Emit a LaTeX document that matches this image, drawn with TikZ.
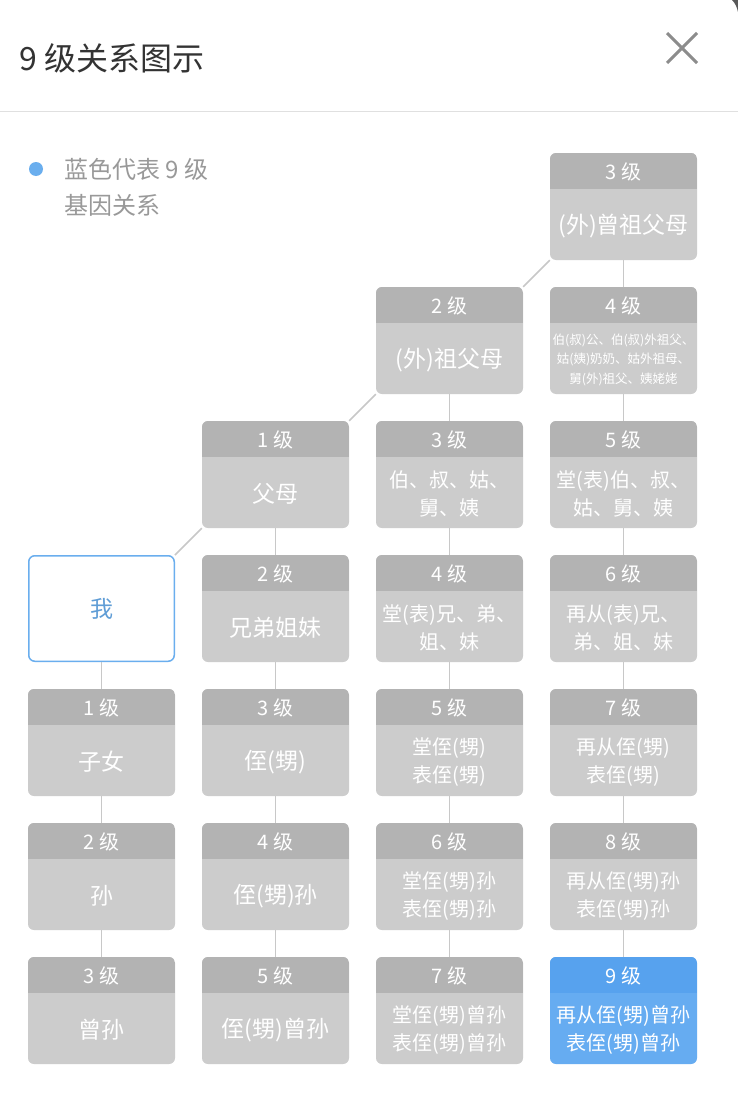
\documentclass[tikz,border=0pt]{standalone}
\usepackage{fontspec}
\setmainfont{Noto Sans CJK SC}
\usepackage{tikz}
\definecolor{headgray}{HTML}{B3B3B3}
\definecolor{bodygray}{HTML}{CCCCCC}
\definecolor{headblue}{HTML}{57A2EE}
\definecolor{bodyblue}{HTML}{66ACF1}
\definecolor{meblue}{HTML}{6AAEEE}
\definecolor{linegray}{HTML}{C8C8C8}
\definecolor{titlegray}{HTML}{333333}
\definecolor{keygray}{HTML}{999999}
\newcommand{\fs}[2]{\fontsize{#1}{#2}\selectfont}
\newcommand{\relcard}[6][card]{%
  \node[#1] (#2) at (#3) {};
  \node[headtext] (#2h) at ([yshift=-19pt]#2.north) {#4 级};
  \node[#6] (#2b) at ([yshift=-73pt]#2.north) {#5};
}

\begin{document}
\begin{tikzpicture}[x=1pt, y=-1pt,
    card/.style={rounded corners=6pt, fill=bodygray, minimum width=147pt, minimum height=107pt, inner sep=0pt,
      path picture={\fill[headgray, sharp corners] (path picture bounding box.north west) rectangle ([yshift=-36pt]path picture bounding box.north east);}},
    bluecard/.style={card, fill=bodyblue,
      path picture={\fill[headblue, sharp corners] (path picture bounding box.north west) rectangle ([yshift=-36pt]path picture bounding box.north east);}},
    mecard/.style={rounded corners=6pt, draw=meblue, line width=1.5pt, fill=white, minimum width=145.5pt, minimum height=105.5pt, text=meblue!90!black, font=\fs{23}{23}},
    headtext/.style={white, font=\fs{20}{20}},
    lbig/.style={white, font=\fs{23}{23}},
    ltwo/.style={white, align=center, font=\fs{20}{28}},
    lsmall/.style={white, align=center, font=\fs{12.5}{19.5}},
    link/.style={draw=linegray, line width=1.5pt}]
  \useasboundingbox[fill=white] (0,0) rectangle (738,1105);
  \fill[black!65] (732,0) .. controls (735,3) and (737,7) .. (738,12) -- (738,0) -- cycle;

  \node[anchor=west, inner sep=0pt, text=titlegray, font=\fs{32}{32}] (T) at (19,58) {9 级关系图示};
  \coordinate (X) at (682,48);
  \draw[black!45, line width=3pt] ([shift={(-15,-15)}]X) -- ([shift={(15,15)}]X) ([shift={(-15,15)}]X) -- ([shift={(15,-15)}]X);
  \draw[black!12] (0,111) -- (738,111);

  \node[circle, fill=meblue, minimum size=14pt, inner sep=0pt] (K) at (36,169) {};
  \node[anchor=north west, inner sep=0pt, align=left, text=keygray, font=\fs{24}{36}] (Kt) at (64,158) {蓝色代表 9 级\\基因关系};

  \relcard{D1}{623.5,206.5}{3}{(外)曾祖父母}{lbig}
  \relcard{D2}{623.5,340.5}{4}{伯(叔)公、伯(叔)外祖父、\\姑(姨)奶奶、姑外祖母、\\舅(外)祖父、姨姥姥}{lsmall}
  \relcard{D3}{623.5,474.5}{5}{堂(表)伯、叔、\\姑、舅、姨}{ltwo}
  \relcard{D4}{623.5,608.5}{6}{再从(表)兄、\\弟、姐、妹}{ltwo}
  \relcard{D5}{623.5,742.5}{7}{再从侄(甥)\\表侄(甥)}{ltwo}
  \relcard{D6}{623.5,876.5}{8}{再从侄(甥)孙\\表侄(甥)孙}{ltwo}
  \relcard[bluecard]{D7}{623.5,1010.5}{9}{再从侄(甥)曾孙\\表侄(甥)曾孙}{ltwo}

  \relcard{C2}{449.5,340.5}{2}{(外)祖父母}{lbig}
  \relcard{C3}{449.5,474.5}{3}{伯、叔、姑、\\舅、姨}{ltwo}
  \relcard{C4}{449.5,608.5}{4}{堂(表)兄、弟、\\姐、妹}{ltwo}
  \relcard{C5}{449.5,742.5}{5}{堂侄(甥)\\表侄(甥)}{ltwo}
  \relcard{C6}{449.5,876.5}{6}{堂侄(甥)孙\\表侄(甥)孙}{ltwo}
  \relcard{C7}{449.5,1010.5}{7}{堂侄(甥)曾孙\\表侄(甥)曾孙}{ltwo}

  \relcard{B3}{275.5,474.5}{1}{父母}{lbig}
  \relcard{B4}{275.5,608.5}{2}{兄弟姐妹}{lbig}
  \relcard{B5}{275.5,742.5}{3}{侄(甥)}{lbig}
  \relcard{B6}{275.5,876.5}{4}{侄(甥)孙}{lbig}
  \relcard{B7}{275.5,1010.5}{5}{侄(甥)曾孙}{lbig}

  \node[mecard] (M) at (101.5,608.5) {我};
  \relcard{A5}{101.5,742.5}{1}{子女}{lbig}
  \relcard{A6}{101.5,876.5}{2}{孙}{lbig}
  \relcard{A7}{101.5,1010.5}{3}{曾孙}{lbig}

  \draw[link] (M.north east) -- (B3.south west) (B3.north east) -- (C2.south west) (C2.north east) -- (D1.south west);
  \draw[link] (M) -- (A5) (A5) -- (A6) (A6) -- (A7)
    (B3) -- (B4) (B4) -- (B5) (B5) -- (B6) (B6) -- (B7)
    (C2) -- (C3) (C3) -- (C4) (C4) -- (C5) (C5) -- (C6) (C6) -- (C7)
    (D1) -- (D2) (D2) -- (D3) (D3) -- (D4) (D4) -- (D5) (D5) -- (D6) (D6) -- (D7);
\end{tikzpicture}
\end{document}
